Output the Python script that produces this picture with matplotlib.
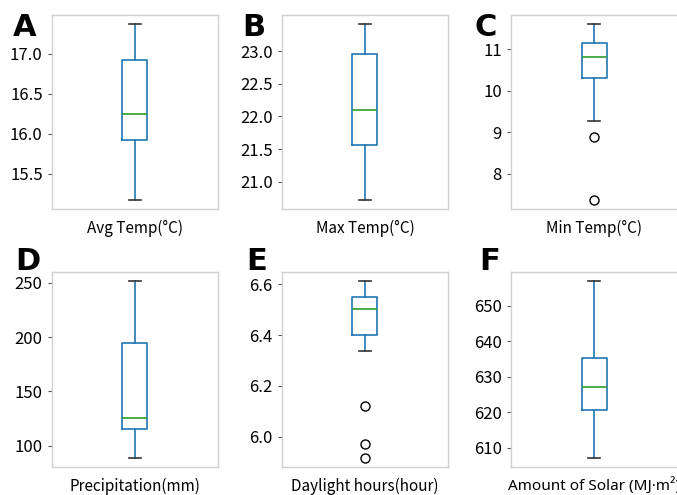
import matplotlib
matplotlib.use('Agg')
import matplotlib.pyplot as plt

plt.rcParams['font.family'] = ['Noto Sans CJK KR', 'DejaVu Sans']

# box statistics
labels = ['Avg Temp(°C)', 'Max Temp(°C)', 'Min Temp(°C)',
          'Precipitation(mm)', 'Daylight hours(hour)', 'Amount of Solar (MJ·m²)']
letters = ['A', 'B', 'C', 'D', 'E', 'F']
whislo = [15.17, 20.72, 9.27, 88.9, 6.338, 607.2]
q1 = [15.92, 21.56, 10.31, 115.0, 6.40, 620.6]
med = [16.25, 22.10, 10.81, 125.7, 6.503, 627.2]
q3 = [16.92, 22.96, 11.14, 194.8, 6.55, 635.3]
whishi = [17.38, 23.42, 11.62, 251.6, 6.612, 656.97]
fliers = [[], [], [8.89, 7.37], [], [6.122, 5.971, 5.918], []]
yticks = [[15.5, 16.0, 16.5, 17.0],
          [21.0, 21.5, 22.0, 22.5, 23.0],
          [8, 9, 10, 11],
          [100, 150, 200, 250],
          [6.0, 6.2, 6.4, 6.6],
          [610, 620, 630, 640, 650]]
ytick_fmt = ['%.1f', '%.1f', '%d', '%d', '%.1f', '%d']

W, H = 677, 495
fig = plt.figure(figsize=(W / 100, H / 100), dpi=100)

col_left = [51.7, 281.7, 511]
row_top = [14.7, 272.3]
ax_w, ax_h = 166.5, 194.3
letter_pos = [(13, 36), (242, 36), (475, 36), (15, 270), (246, 270), (479, 270)]

for i in range(6):
    r, c = divmod(i, 3)
    left = col_left[c] / W
    bottom = 1 - (row_top[r] + ax_h) / H
    ax = fig.add_axes([left, bottom, ax_w / W, ax_h / H])
    stats = [dict(whislo=whislo[i], q1=q1[i], med=med[i], q3=q3[i],
                  whishi=whishi[i], fliers=fliers[i], label=labels[i])]
    ax.bxp(stats, positions=[1], widths=0.15,
           boxprops=dict(color='#1f77b4', linewidth=1.2),
           whiskerprops=dict(color='#1f77b4', linewidth=1.2),
           capprops=dict(color='#333333', linewidth=1.2),
           medianprops=dict(color='#2ca02c', linewidth=1.2),
           flierprops=dict(marker='o', markerfacecolor='none',
                           markeredgecolor='black', markersize=6.5))
    ax.set_xlim(0.5, 1.5)
    ax.set_yticks(yticks[i])
    ax.set_yticklabels([ytick_fmt[i] % v for v in yticks[i]])
    for s in ax.spines.values():
        s.set_color('#d0d0d0')
        s.set_linewidth(1.0)
    ax.tick_params(axis='x', length=0, labelsize=11, pad=8)
    ax.tick_params(axis='y', length=3, color='#555555', labelsize=12)
    if i == 5:
        for t in ax.get_xticklabels():
            t.set_family(['Noto Sans', 'DejaVu Sans'])
    x, y = letter_pos[i]
    fig.text(x / W, 1 - y / H, letters[i], fontsize=22, fontweight='bold',
             va='baseline', ha='left', family=['DejaVu Sans'])

fig.savefig('out.png', dpi=100)
